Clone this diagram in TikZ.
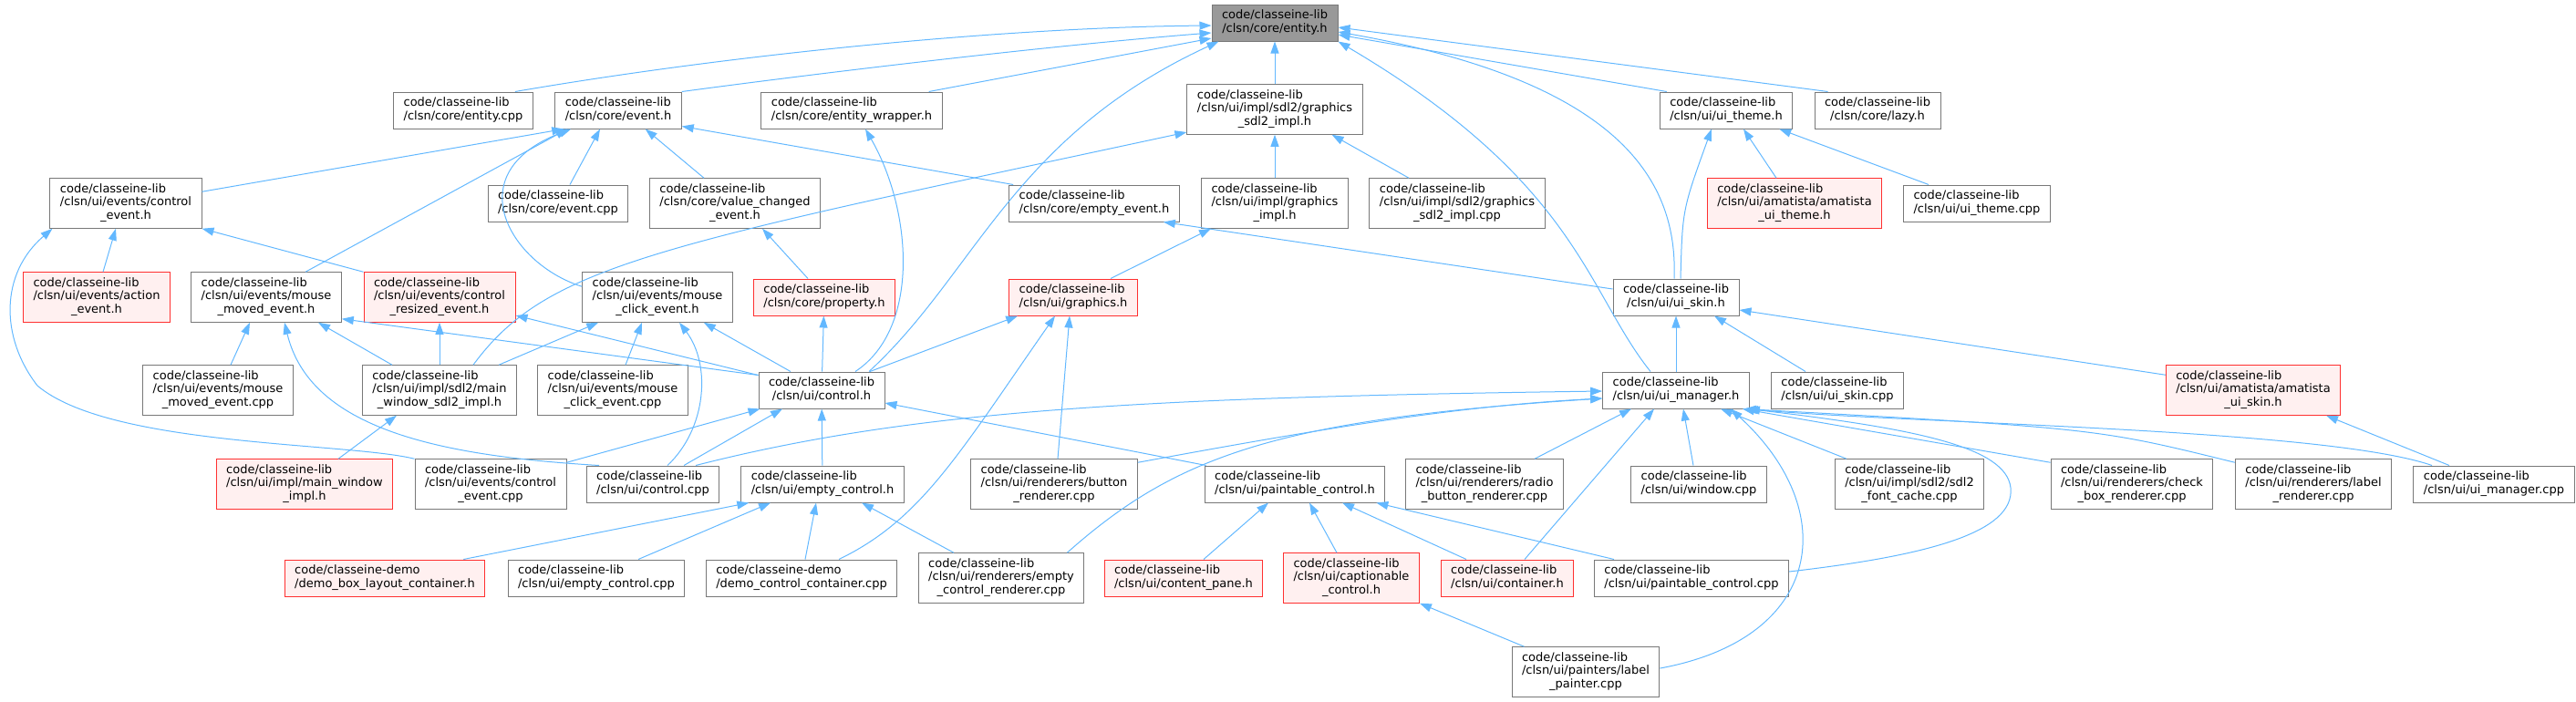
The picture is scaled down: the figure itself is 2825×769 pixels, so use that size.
\documentclass[tikz,border=0pt]{standalone}
\usepackage{fontspec}
\setmainfont{DejaVu Sans}
\usetikzlibrary{arrows.meta}
\definecolor{edgeblue}{HTML}{63B8FF}
\definecolor{boxgray}{HTML}{787878}
\definecolor{boxred}{HTML}{FF3030}
\definecolor{boxpink}{HTML}{FFF0F0}
\definecolor{boxtop}{HTML}{999999}
\newcommand{\ftwo}[2]{\begin{tabular}{@{}l@{}}#1\\\multicolumn{1}{@{}c@{}}{#2}\end{tabular}}
\newcommand{\fthree}[3]{\begin{tabular}{@{}l@{}}#1\\#2\\\multicolumn{1}{@{}c@{}}{#3}\end{tabular}}

\begin{document}
\begin{tikzpicture}[x=1pt, y=-1pt,
        file/.style={draw=boxgray, fill=white, line width=1pt, inner xsep=11pt, inner ysep=5.5pt, font=\fontsize{13}{14.5}\selectfont},
        redfile/.style={file, draw=boxred, fill=boxpink},
        topfile/.style={file, fill=boxtop},
        incl/.style={draw=edgeblue, line width=1pt, -{Triangle[length=13pt, width=9pt]}}]
    \useasboundingbox (0,0) rectangle (2825,769);

    \node[topfile] (entityh) at (1398,25) {\ftwo{code/classeine-lib}{/clsn/core/entity.h}};

    \node[file] (entitycpp) at (508,121) {\ftwo{code/classeine-lib}{/clsn/core/entity.cpp}};
    \node[file] (eventh) at (678,121) {\ftwo{code/classeine-lib}{/clsn/core/event.h}};
    \node[file] (entitywrapper) at (934,121) {\ftwo{code/classeine-lib}{/clsn/core/entity\_wrapper.h}};
    \node[file] (gfxsdlh) at (1398,120) {\fthree{code/classeine-lib}{/clsn/ui/impl/sdl2/graphics}{\_sdl2\_impl.h}};
    \node[file] (uithemeh) at (1893,121) {\ftwo{code/classeine-lib}{/clsn/ui/ui\_theme.h}};
    \node[file] (lazyh) at (2059,121) {\ftwo{code/classeine-lib}{/clsn/core/lazy.h}};

    \node[file] (ctrleventh) at (138,223) {\fthree{code/classeine-lib}{/clsn/ui/events/control}{\_event.h}};
    \node[file] (eventcpp) at (612,223) {\ftwo{code/classeine-lib}{/clsn/core/event.cpp}};
    \node[file] (valuechanged) at (806,223) {\fthree{code/classeine-lib}{/clsn/core/value\_changed}{\_event.h}};
    \node[file] (emptyevent) at (1200,223) {\ftwo{code/classeine-lib}{/clsn/core/empty\_event.h}};
    \node[file] (gfximplh) at (1398,223) {\fthree{code/classeine-lib}{/clsn/ui/impl/graphics}{\_impl.h}};
    \node[file] (gfxsdlcpp) at (1598,223) {\fthree{code/classeine-lib}{/clsn/ui/impl/sdl2/graphics}{\_sdl2\_impl.cpp}};
    \node[redfile] (amathemeh) at (1968,223) {\fthree{code/classeine-lib}{/clsn/ui/amatista/amatista}{\_ui\_theme.h}};
    \node[file] (uithemecpp) at (2168,223) {\ftwo{code/classeine-lib}{/clsn/ui/ui\_theme.cpp}};

    \node[redfile] (actionevent) at (106,326) {\fthree{code/classeine-lib}{/clsn/ui/events/action}{\_event.h}};
    \node[file] (mmovedh) at (292,326) {\fthree{code/classeine-lib}{/clsn/ui/events/mouse}{\_moved\_event.h}};
    \node[redfile] (resizedh) at (482,326) {\fthree{code/classeine-lib}{/clsn/ui/events/control}{\_resized\_event.h}};
    \node[file] (mclickh) at (721,326) {\fthree{code/classeine-lib}{/clsn/ui/events/mouse}{\_click\_event.h}};
    \node[redfile] (propertyh) at (904,326) {\ftwo{code/classeine-lib}{/clsn/core/property.h}};
    \node[redfile] (graphicsh) at (1177,326) {\ftwo{code/classeine-lib}{/clsn/ui/graphics.h}};
    \node[file] (uiskinh) at (1838,326) {\ftwo{code/classeine-lib}{/clsn/ui/ui\_skin.h}};

    \node[file] (mmovedcpp) at (239,428) {\fthree{code/classeine-lib}{/clsn/ui/events/mouse}{\_moved\_event.cpp}};
    \node[file] (mainwinsdl) at (482,428) {\fthree{code/classeine-lib}{/clsn/ui/impl/sdl2/main}{\_window\_sdl2\_impl.h}};
    \node[file] (mclickcpp) at (672,428) {\fthree{code/classeine-lib}{/clsn/ui/events/mouse}{\_click\_event.cpp}};
    \node[file] (controlh) at (901,428) {\ftwo{code/classeine-lib}{/clsn/ui/control.h}};
    \node[file] (uimanagerh) at (1838,428) {\ftwo{code/classeine-lib}{/clsn/ui/ui\_manager.h}};
    \node[file] (uiskincpp) at (2015,428) {\ftwo{code/classeine-lib}{/clsn/ui/ui\_skin.cpp}};
    \node[redfile] (amaskinh) at (2471,428) {\fthree{code/classeine-lib}{/clsn/ui/amatista/amatista}{\_ui\_skin.h}};

    \node[redfile] (mainwinimpl) at (334,531) {\fthree{code/classeine-lib}{/clsn/ui/impl/main\_window}{\_impl.h}};
    \node[file] (ctrleventcpp) at (538,531) {\fthree{code/classeine-lib}{/clsn/ui/events/control}{\_event.cpp}};
    \node[file] (controlcpp) at (716,531) {\ftwo{code/classeine-lib}{/clsn/ui/control.cpp}};
    \node[file] (emptyctrlh) at (902,531) {\ftwo{code/classeine-lib}{/clsn/ui/empty\_control.h}};
    \node[file] (buttonrend) at (1156,531) {\fthree{code/classeine-lib}{/clsn/ui/renderers/button}{\_renderer.cpp}};
    \node[file] (paintableh) at (1420,531) {\ftwo{code/classeine-lib}{/clsn/ui/paintable\_control.h}};
    \node[file] (radiorend) at (1628,531) {\fthree{code/classeine-lib}{/clsn/ui/renderers/radio}{\_button\_renderer.cpp}};
    \node[file] (windowcpp) at (1863,531) {\ftwo{code/classeine-lib}{/clsn/ui/window.cpp}};
    \node[file] (fontcache) at (2094,531) {\fthree{code/classeine-lib}{/clsn/ui/impl/sdl2/sdl2}{\_font\_cache.cpp}};
    \node[file] (checkboxrend) at (2338,531) {\fthree{code/classeine-lib}{/clsn/ui/renderers/check}{\_box\_renderer.cpp}};
    \node[file] (labelrend) at (2537,531) {\fthree{code/classeine-lib}{/clsn/ui/renderers/label}{\_renderer.cpp}};
    \node[file] (uimanagercpp) at (2735,531) {\ftwo{code/classeine-lib}{/clsn/ui/ui\_manager.cpp}};

    \node[redfile] (demobox) at (422,634) {\ftwo{code/classeine-demo}{/demo\_box\_layout\_container.h}};
    \node[file] (emptyctrlcpp) at (654,634) {\ftwo{code/classeine-lib}{/clsn/ui/empty\_control.cpp}};
    \node[file] (democtrl) at (879,634) {\ftwo{code/classeine-demo}{/demo\_control\_container.cpp}};
    \node[file] (emptyrend) at (1098,634) {\fthree{code/classeine-lib}{/clsn/ui/renderers/empty}{\_control\_renderer.cpp}};
    \node[redfile] (contentpane) at (1298,634) {\ftwo{code/classeine-lib}{/clsn/ui/content\_pane.h}};
    \node[redfile] (captionable) at (1482,634) {\fthree{code/classeine-lib}{/clsn/ui/captionable}{\_control.h}};
    \node[redfile] (containerh) at (1653,634) {\ftwo{code/classeine-lib}{/clsn/ui/container.h}};
    \node[file] (paintablecpp) at (1855,634) {\ftwo{code/classeine-lib}{/clsn/ui/paintable\_control.cpp}};

    \node[file] (labelpainter) at (1739,737) {\fthree{code/classeine-lib}{/clsn/ui/painters/label}{\_painter.cpp}};

    \draw[incl] ([xshift=-20pt]entitycpp.north east) .. controls (800,60) and (1100,30) .. ([yshift=-3pt]entityh.west);
    \draw[incl] (eventh.north east) .. controls (900,80) and (1150,50) .. ([yshift=-11pt]entityh.west);
    \draw[incl] ([xshift=-15pt]entitywrapper.north east) -- ([yshift=-17pt]entityh.west);
    \draw[incl] ([xshift=52pt]controlh.north) .. controls (1070,300) and (1110,150) .. ([xshift=8pt]entityh.south west);
    \draw[incl] (gfxsdlh) -- (entityh);
    \draw[incl] ([xshift=8pt]uithemeh.north west) -- ([yshift=-13pt]entityh.east);
    \draw[incl] ([xshift=15pt]lazyh.north west) -- ([yshift=-5pt]entityh.east);
    \draw[incl] ([xshift=-2pt]uiskinh.north) .. controls (1840,200) and (1780,90) .. ([yshift=-10pt]entityh.east);
    \draw[incl] ([xshift=-28pt]uimanagerh.north) .. controls (1740,320) and (1730,200) .. (entityh.south east);

    \draw[incl] ([yshift=-15pt]ctrleventh.north east) -- ([xshift=10pt]eventh.south west);
    \draw[incl] ([xshift=43pt]mmovedh.north) -- ([xshift=14pt]eventh.south west);
    \draw[incl] ([yshift=-16pt]mclickh.north west) .. controls (560,290) and (500,190) .. ([xshift=18pt]eventh.south west);
    \draw[incl] ([xshift=13pt]eventcpp.north) -- ([xshift=-20pt]eventh.south);
    \draw[incl] ([xshift=-34pt]valuechanged.north) -- ([xshift=-40pt]eventh.south east);
    \draw[incl] ([xshift=5pt]emptyevent.north west) -- ([yshift=3pt]eventh.south east);

    \draw[incl] ([xshift=7pt]actionevent.north) -- ([xshift=-11pt]ctrleventh.south);
    \draw[incl] (resizedh.north west) -- (ctrleventh.south east);
    \draw[incl] (ctrleventcpp.north west) .. controls (380,485) and (120,490) .. (41,423) .. controls (0,370) and (0,300) .. ([xshift=3pt]ctrleventh.south west);

    \draw[incl] ([xshift=14pt]mmovedcpp.north) -- ([xshift=-18pt]mmovedh.south);
    \draw[incl] ([xshift=-52pt]mainwinsdl.north) -- ([xshift=57pt]mmovedh.south);
    \draw[incl] ([yshift=-4pt]controlh.north west) -- ([yshift=4pt]mmovedh.south east);
    \draw[incl] ([xshift=-59pt]controlcpp.north) .. controls (480,500) and (340,470) .. ([xshift=20pt]mmovedh.south);

    \draw[incl] (mainwinsdl) -- (resizedh);
    \draw[incl] ([yshift=-4pt]controlh.north west) -- ([yshift=-20pt]resizedh.east);

    \draw[incl] ([xshift=-20pt]mainwinsdl.north east) -- ([xshift=18pt]mclickh.south west);
    \draw[incl] ([xshift=14pt]mclickcpp.north) -- ([xshift=-17pt]mclickh.south);
    \draw[incl] ([xshift=-34pt]controlh.north) -- ([xshift=-32pt]mclickh.south east);
    \draw[incl] ([xshift=16pt]controlcpp.north) .. controls (775,470) and (780,400) .. ([xshift=24pt]mclickh.south);

    \draw[incl] (controlh) -- (propertyh);
    \draw[incl] ([xshift=-18pt]propertyh.north) -- ([xshift=30pt]valuechanged.south);
    \draw[incl] ([yshift=9pt]uiskinh.west) -- ([xshift=-18pt]emptyevent.south east);
    \draw[incl] ([xshift=41pt]graphicsh.north) -- ([xshift=-70pt]gfximplh.south);
    \draw[incl] (gfximplh) -- (gfxsdlh);
    \draw[incl] ([xshift=-53pt]gfxsdlcpp.north) -- ([xshift=-34pt]gfxsdlh.south east);
    \draw[incl] ([xshift=37pt]mainwinsdl.north) .. controls (600,290) and (720,270) .. ([yshift=-25pt]gfxsdlh.west);
    \draw[incl] ([xshift=37pt]controlh.north) .. controls (1010,360) and (1000,230) .. ([xshift=15pt]entitywrapper.south);

    \draw[incl] ([xshift=53pt]controlh.north) -- ([xshift=10pt]graphicsh.south west);
    \draw[incl] ([xshift=41pt]democtrl.north) .. controls (1010,570) and (1050,500) .. ([xshift=-20pt]graphicsh.south);
    \draw[incl] ([xshift=4pt]buttonrend.north) -- ([xshift=-4pt]graphicsh.south);

    \draw[incl] ([xshift=-20pt]amathemeh.north) -- ([xshift=19pt]uithemeh.south);
    \draw[incl] ([xshift=28pt]uithemecpp.north west) -- ([xshift=-15pt]uithemeh.south east);
    \draw[incl] ([xshift=5pt]uiskinh.north) .. controls (1845,230) .. ([xshift=-16pt]uithemeh.south);

    \draw[incl] (uimanagerh) -- (uiskinh);
    \draw[incl] ([xshift=-35pt]uiskincpp.north) -- ([xshift=42pt]uiskinh.south);
    \draw[incl] ([yshift=-11pt]amaskinh.north west) -- ([yshift=-14pt]uiskinh.east);
    \draw[incl] ([xshift=-49pt]uimanagercpp.north) -- ([xshift=80pt]amaskinh.south);
    \draw[incl] ([xshift=37pt]mainwinimpl.north) -- ([xshift=-47pt]mainwinsdl.south);

    \draw[incl] ([yshift=-4pt]ctrleventcpp.north east) -- ([xshift=2pt]controlh.south west);
    \draw[incl] ([xshift=34pt]controlcpp.north) -- ([xshift=-43pt]controlh.south);
    \draw[incl] (emptyctrlh) -- (controlh);
    \draw[incl] ([xshift=2pt]paintableh.north west) -- ([yshift=-14pt]controlh.east);

    \draw[incl] ([xshift=-24pt]demobox.north east) -- ([xshift=9pt]emptyctrlh.south west);
    \draw[incl] ([xshift=46pt]emptyctrlcpp.north) -- ([xshift=-57pt]emptyctrlh.south);
    \draw[incl] ([xshift=4pt]democtrl.north) -- ([xshift=-7pt]emptyctrlh.south);
    \draw[incl] ([xshift=-52pt]emptyrend.north) -- ([xshift=43pt]emptyctrlh.south);

    \draw[incl] ([xshift=22pt]contentpane.north) -- ([xshift=-29pt]paintableh.south);
    \draw[incl] ([xshift=-16pt]captionable.north) -- ([xshift=16pt]paintableh.south);
    \draw[incl] ([xshift=-45pt]containerh.north) -- ([xshift=52pt]paintableh.south);
    \draw[incl] ([xshift=22pt]paintablecpp.north west) -- ([xshift=-10pt]paintableh.south east);
    \draw[incl] ([xshift=14pt]labelpainter.north west) -- (captionable.south east);

    \draw[incl] ([xshift=47pt]controlcpp.north) .. controls (1000,450) and (1250,436) .. ([yshift=-1pt]uimanagerh.west);
    \draw[incl] ([yshift=-4pt]buttonrend.north east) .. controls (1450,470) and (1600,445) .. ([yshift=-9pt]uimanagerh.west);
    \draw[incl] ([xshift=-19pt]emptyrend.north east) .. controls (1290,500) and (1400,460) .. ([yshift=-9pt]uimanagerh.west);
    \draw[incl] ([xshift=55pt]radiorend.north) -- ([xshift=-49pt]uimanagerh.south);
    \draw[incl] ([xshift=19pt]containerh.north) -- ([xshift=-24pt]uimanagerh.south);
    \draw[incl] ([xshift=-6pt]windowcpp.north) -- ([xshift=8pt]uimanagerh.south);
    \draw[incl] ([yshift=4pt]labelpainter.east) .. controls (2000,700) and (2020,560) .. ([xshift=60pt]uimanagerh.south);
    \draw[incl] ([xshift=-69pt]fontcache.north) -- ([xshift=49pt]uimanagerh.south);
    \draw[incl] ([yshift=-4pt]checkboxrend.north west) -- ([xshift=-8pt]uimanagerh.south east);
    \draw[incl] ([yshift=-4pt]labelrend.north west) .. controls (2300,470) .. ([xshift=-6pt]uimanagerh.south east);
    \draw[incl] ([xshift=-68pt]uimanagercpp.north) .. controls (2550,470) and (2100,465) .. ([xshift=-4pt]uimanagerh.south east);
    \draw[incl] ([yshift=7pt]paintablecpp.east) .. controls (2110,610) and (2210,585) .. (2205,535) .. controls (2200,490) and (2100,470) .. ([xshift=-2pt]uimanagerh.south east);
\end{tikzpicture}
\end{document}
